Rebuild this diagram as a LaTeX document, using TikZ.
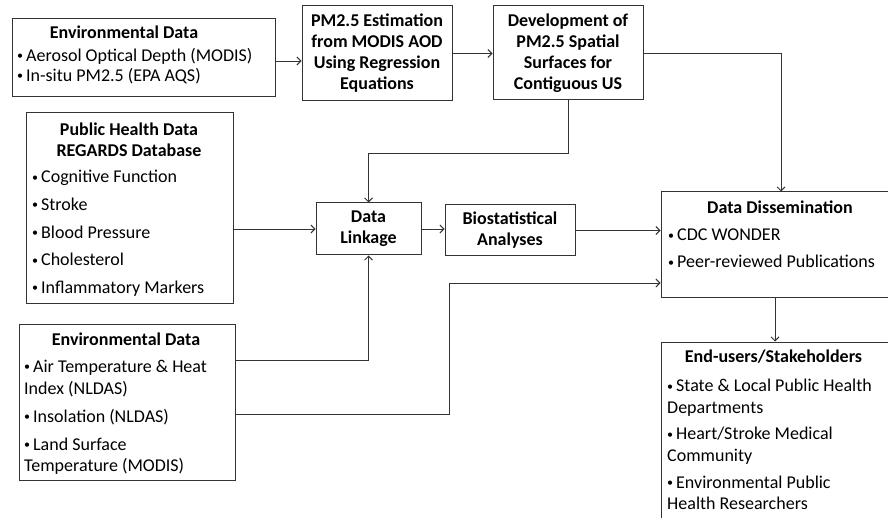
\documentclass[tikz,border=0pt]{standalone}
\usepackage{fontspec}
\setmainfont{Carlito}
\usetikzlibrary{arrows.meta}
\newcommand{\bul}{{\fontsize{12}{12}\selectfont\raisebox{1.6pt}{\textbullet}}\hspace{3pt}}
\tikzset{
  box/.style={draw=black!80, line width=1pt, inner sep=0pt},
  stage/.style={box, align=center, font=\bfseries\fontsize{18}{21}\selectfont},
  head/.style={inner sep=0pt, align=center, font=\bfseries\fontsize{18}{21}\selectfont},
  items/.style={inner sep=0pt, align=left, anchor=north west, font=\fontsize{18}{21.5}\selectfont},
  flow/.style={draw=black!80, line width=0.9pt, -{Straight Barb[length=4pt,width=8pt]}}
}
\begin{document}
\begin{tikzpicture}[x=1pt,y=-1pt]
\clip (0,0) rectangle (888,518);
% boxes
\node[box, minimum width=263pt, minimum height=78pt] (envtop) at (143.5,58) {};
\node[stage, minimum width=150pt, minimum height=95pt] (estim) at (377,53.5) {PM2.5 Estimation\\from MODIS AOD\\Using Regression\\Equations};
\node[stage, minimum width=150pt, minimum height=94pt] (surf) at (568,53) {Development of\\PM2.5 Spatial\\Surfaces for\\Contiguous US};
\node[box, minimum width=207pt, minimum height=191pt] (health) at (129.5,208.5) {};
\node[stage, minimum width=105pt, minimum height=52pt] (link) at (368.5,229) {Data\\Linkage};
\node[stage, minimum width=130pt, minimum height=51pt] (bio) at (510,230.5) {Biostatistical\\Analyses};
\node[box, minimum width=240pt, minimum height=106pt] (dissem) at (781,245) {};
\node[box, minimum width=216pt, minimum height=156pt] (envbot) at (127,402) {};
\node[box, minimum width=228pt, minimum height=198pt] (users) at (775,441) {};
% texts
\node[head] (envtopH) at (124,32) {Environmental Data};
\node[items] (envtopL) at (17,48) {\bul Aerosol Optical Depth (MODIS)\\[-1.5pt]\bul In-situ PM2.5 (EPA AQS)};
\node[head] (healthH) at (129,139.5) {Public Health Data\\REGARDS Database};
\node[items] (healthL) at (32,170) {\bul Cognitive Function\\[6.2pt]\bul Stroke\\[6.2pt]\bul Blood Pressure\\[6.2pt]\bul Cholesterol\\[6.2pt]\bul Inflammatory Markers};
\node[head] (envbotH) at (126,339) {Environmental Data};
\node[items] (envbotL) at (24,360) {\bul Air Temperature \& Heat\\Index (NLDAS)\\[6.5pt]\bul Insolation (NLDAS)\\[6.5pt]\bul Land Surface\\Temperature (MODIS)};
\node[head] (dissemH) at (780,207) {Data Dissemination};
\node[items] (dissemL) at (668,229) {\bul CDC WONDER\\[5.5pt]\bul Peer-reviewed Publications};
\node[head] (usersH) at (773.5,357) {End-users/Stakeholders};
\node[items] (usersL) at (667,379) {\bul State \& Local Public Health\\Departments\\[5pt]\bul Heart/Stroke Medical\\Community\\[5.5pt]\bul Environmental Public\\Health Researchers};
% connectors
\draw[flow] ([yshift=-3pt]envtop.east) -- ([yshift=-3pt]envtop.east -| estim.west);
\draw[flow] (estim.east) -- (estim.east -| surf.west);
\draw[flow] (surf.east) -| (dissem.north);
\draw[flow] (surf.south) -- ++(0,53) -| (link.north);
\draw[flow] (health.east |- link.west) -- (link.west);
\draw[flow] (link.east) -- (link.east -| bio.west);
\draw[flow] (bio.east) -- (bio.east -| dissem.west);
\draw[flow] ([yshift=42pt]envbot.east) -| (link.south);
\coordinate (jog) at (449,414);
\draw[flow] (envbot.east |- jog) -- (jog) |- ([yshift=-38pt]dissem.west);
\draw[flow] (users.north |- dissem.south) -- (users.north);
\end{tikzpicture}
\end{document}
